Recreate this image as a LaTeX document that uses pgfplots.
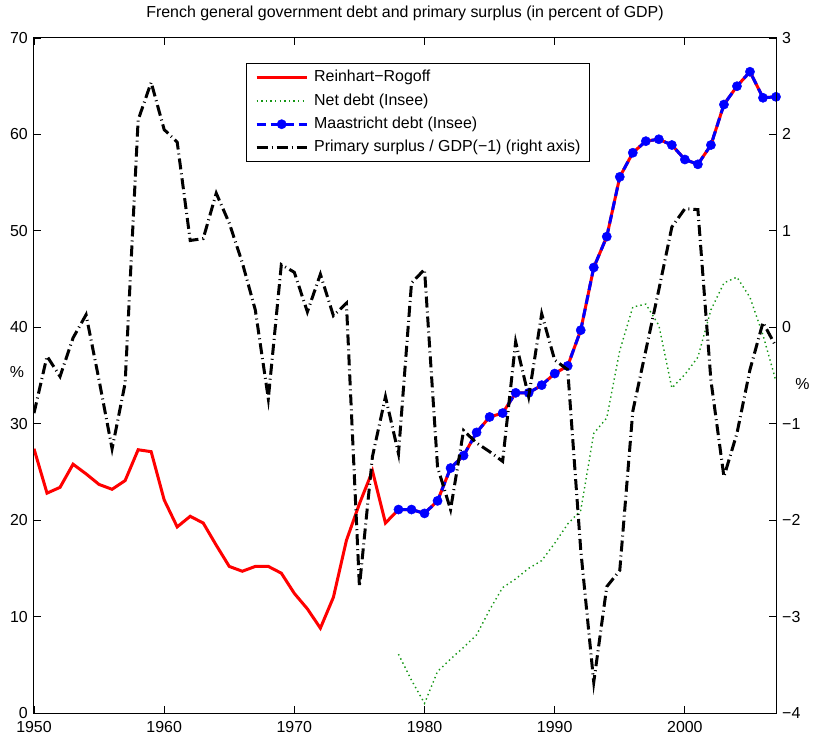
\documentclass[border=0pt]{standalone}
\usepackage{fontspec}
\setmainfont{Liberation Sans}
\usepackage{pgfplots}
\usepackage{pgfplotstable}
\pgfplotsset{compat=1.18}

\definecolor{mgreen}{RGB}{20,150,20}

\pgfplotstableread{
year val
1950 27.4
1951 22.8
1952 23.4
1953 25.8
1954 24.8
1955 23.7
1956 23.2
1957 24.1
1958 27.3
1959 27.1
1960 22.1
1961 19.3
1962 20.4
1963 19.7
1964 17.4
1965 15.2
1966 14.7
1967 15.2
1968 15.2
1969 14.5
1970 12.4
1971 10.8
1972 8.8
1973 12.0
1974 17.9
1975 21.7
1976 25.1
1977 19.7
1978 21.1
1979 21.1
1980 20.7
1981 22.0
1982 25.4
1983 26.7
1984 29.1
1985 30.7
1986 31.1
1987 33.2
1988 33.2
1989 34.0
1990 35.2
1991 36.0
1992 39.7
1993 46.2
1994 49.4
1995 55.6
1996 58.1
1997 59.3
1998 59.5
1999 58.9
2000 57.4
2001 56.9
2002 58.9
2003 63.1
2004 65.0
2005 66.5
2006 63.8
2007 63.9
}\rrdata

\pgfplotstableread{
year val
1978 21.1
1979 21.1
1980 20.7
1981 22.0
1982 25.4
1983 26.7
1984 29.1
1985 30.7
1986 31.1
1987 33.2
1988 33.2
1989 34.0
1990 35.2
1991 36.0
1992 39.7
1993 46.2
1994 49.4
1995 55.6
1996 58.1
1997 59.3
1998 59.5
1999 58.9
2000 57.4
2001 56.9
2002 58.9
2003 63.1
2004 65.0
2005 66.5
2006 63.8
2007 63.9
}\maadata

\pgfplotstableread{
year val
1978 6.1
1979 3.4
1980 1.0
1981 4.3
1982 5.6
1983 6.8
1984 8.1
1985 10.7
1986 13.0
1987 13.9
1988 15.0
1989 15.8
1990 17.6
1991 19.6
1992 21.0
1993 29.0
1994 30.6
1995 37.6
1996 42.1
1997 42.4
1998 40.2
1999 33.7
2000 35.1
2001 36.9
2002 41.8
2003 44.6
2004 45.2
2005 43.1
2006 39.2
2007 34.4
}\netdata

\pgfplotstableread{
year val
1950 -0.89
1951 -0.30
1952 -0.51
1953 -0.11
1954 0.13
1955 -0.55
1956 -1.26
1957 -0.58
1958 2.15
1959 2.54
1960 2.05
1961 1.92
1962 0.90
1963 0.92
1964 1.39
1965 1.08
1966 0.67
1967 0.18
1968 -0.74
1969 0.65
1970 0.57
1971 0.16
1972 0.55
1973 0.12
1974 0.25
1975 -2.69
1976 -1.34
1977 -0.72
1978 -1.31
1979 0.46
1980 0.60
1981 -1.45
1982 -1.89
1983 -1.07
1984 -1.20
1985 -1.29
1986 -1.39
1987 -0.15
1988 -0.72
1989 0.14
1990 -0.34
1991 -0.44
1992 -2.31
1993 -3.68
1994 -2.69
1995 -2.52
1996 -0.87
1997 -0.24
1998 0.39
1999 1.04
2000 1.23
2001 1.22
2002 -0.55
2003 -1.55
2004 -1.10
2005 -0.44
2006 0.05
2007 -0.20
}\psdata

\tikzset{
  rrline/.style={red, line width=3bp},
  maaline/.style={blue, line width=3bp, dash pattern=on 9bp off 5bp},
  netline/.style={mgreen, line width=1.4bp, dash pattern=on 1.4bp off 3.2bp},
  psline/.style={black, line width=3bp, dash pattern=on 11bp off 4bp on 1bp off 4bp},
}

\pgfplotsset{
  myaxis/.style={
    scale only axis, width=742bp, height=675bp,
    xmin=1950, xmax=2007,
    tick align=inside, major tick length=7bp,
    axis line style={line width=1bp},
    every tick/.style={black, line width=0.8bp},
    font=\fontsize{16}{19}\selectfont,
  },
}

\begin{document}
\begin{tikzpicture}
\begin{axis}[myaxis,
  ymin=0, ymax=70,
  xtick={1950,1960,1970,1980,1990,2000},
  xticklabels={1950,1960,1970,1980,1990,2000},
  ytick={0,10,20,30,40,50,60,70},
  yticklabels={0,10,20,30,40,50,60,70},
  ytick pos=left, xtick pos=both,
  xticklabel style={anchor=base, yshift=-19.5bp},
  yticklabel style={anchor=east, inner sep=0pt, xshift=-6bp},
  title={French general government debt and primary surplus (in percent of GDP)},
  title style={at={(0.5,1)}, anchor=base, yshift=15bp, font=\fontsize{16}{19}\selectfont},
  ylabel={\%},
  every axis y label/.style={at={(axis description cs:0,0.505)}, anchor=center, xshift=-17bp},
]
\addplot[rrline] table[x=year,y=val] {\rrdata};
\addplot[netline] table[x=year,y=val] {\netdata};
\addplot[maaline, mark=*, mark options={solid, fill=blue, draw=blue, line width=0.5bp}, mark size=4.6bp] table[x=year,y=val] {\maadata};
\end{axis}
\begin{axis}[myaxis,
  ymin=-4, ymax=3,
  axis x line=none, axis y line*=right,
  ytick={-4,-3,-2,-1,0,1,2,3},
  yticklabels={−4,−3,−2,−1,0,1,2,3},
  ytick pos=right,
  yticklabel style={anchor=west, inner sep=0pt, xshift=6bp},
  ylabel={\%},
  every axis y label/.style={at={(axis description cs:1,0.487)}, anchor=center, xshift=26.5bp},
  legend cell align=left,
  legend style={at={(0.2853,0.9625)}, anchor=north west, draw=black, line width=1bp,
    font=\fontsize{16}{19}\selectfont, inner xsep=9bp, inner ysep=6.5bp,
    row sep=8.2bp, column sep=6bp,
    nodes={inner sep=0pt, text height=11.5bp, text depth=3.5bp}},
  legend image code/.code={\draw[mark repeat=2,mark phase=2,#1] plot coordinates {(0bp,0bp) (25bp,0bp) (50bp,0bp)};},
]
\addlegendimage{rrline}
\addlegendentry{Reinhart−Rogoff}
\addlegendimage{netline}
\addlegendentry{Net debt (Insee)}
\addlegendimage{maaline, mark=*, mark options={solid, fill=blue, draw=blue, line width=0.5bp}, mark size=4.6bp}
\addlegendentry{Maastricht debt (Insee)}
\addplot[psline] table[x=year,y=val] {\psdata};
\addlegendentry{Primary surplus / GDP(−1) (right axis)}
\end{axis}
\pgfresetboundingbox
\path (-34bp,-22bp) rectangle (779bp,713bp);
\end{tikzpicture}
\end{document}
